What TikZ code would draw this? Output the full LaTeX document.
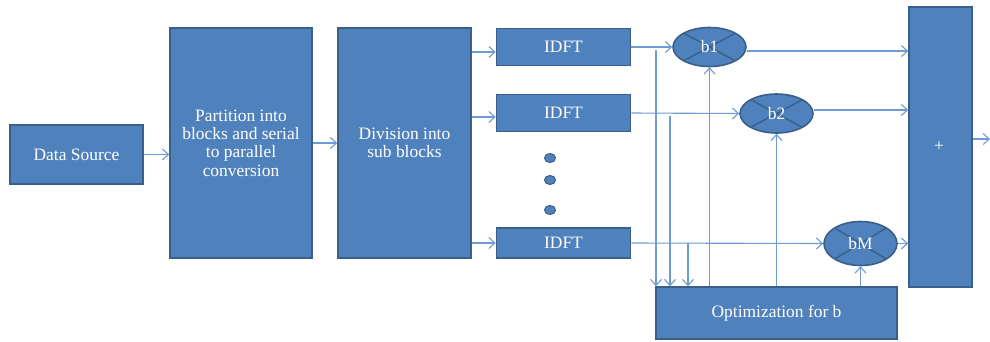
\documentclass[tikz,border=0pt]{standalone}
\usepackage{fontspec}
\setmainfont{Liberation Serif}
\usetikzlibrary{arrows.meta,shapes.geometric}
\definecolor{boxfill}{HTML}{4F81BD}
\definecolor{boxline}{HTML}{3A5F8B}
\definecolor{wire}{HTML}{6F9BD5}
\tikzset{
  lbl/.style={text=white, align=center, font=\fontsize{17.5}{18.5}\selectfont},
  blk/.style={lbl, draw=boxline, line width=1.6bp, fill=boxfill, inner sep=2bp},
  mult/.style={lbl, ellipse, draw=boxline, line width=1.6bp, fill=boxfill,
    inner sep=0pt, minimum width=73bp, minimum height=39bp,
    path picture={\draw[boxline, line width=1.4bp]
      (path picture bounding box.north west) -- (path picture bounding box.south east)
      (path picture bounding box.north east) -- (path picture bounding box.south west);}},
  dot/.style={ellipse, draw=boxline, line width=1bp, fill=boxfill,
    minimum width=11bp, minimum height=9bp, inner sep=0pt},
  wr/.style={draw=wire, line width=1.1bp},
  arr/.style={wr, -{Straight Barb[length=6bp,width=11bp,line width=1.1bp]}}
}
\begin{document}
\begin{tikzpicture}[x=1bp,y=-1bp]
\useasboundingbox (0,0) rectangle (990,341);

% main processing blocks
\node[blk, minimum width=133bp, minimum height=59bp] (src) at (76.5,154.5) {Data Source};
\node[blk, minimum width=142bp, minimum height=230bp] (part) at (241,143) {};
\node[lbl] (partlbl) at (241,143)
  {Partition into\\blocks and serial\\to parallel\\conversion};
\node[blk, minimum width=133bp, minimum height=230bp] (div) at (404.5,143) {};
\node[lbl] (divlbl) at (404.5,143) {Division into\\sub blocks};

% IDFT branches
\node[blk, minimum width=134bp, minimum height=37bp] (i1) at (563.5,47) {IDFT};
\node[blk, minimum width=134bp, minimum height=37bp] (i2) at (563.5,113) {IDFT};
\node[blk, minimum width=134bp, minimum height=30bp] (i3) at (563.5,243) {IDFT};
\node[dot] (d1) at (550,158) {};
\node[dot] (d2) at (550,180) {};
\node[dot] (d3) at (550,210) {};

% phase multipliers
\node[mult] (b1) at (709.5,47) {b1};
\node[mult] (b2) at (776.5,113.5) {b2};
\node[mult, minimum height=44bp] (bM) at (860.5,243.5) {bM};

% adder and optimiser
\node[blk, minimum width=63bp, minimum height=280bp] (sum) at (940.5,147) {};
\node[lbl] (plus) at (939,147) {+};
\node[blk, minimum width=241bp, minimum height=52bp] (opt) at (776.5,313) {Optimization for b};

% tap points on the branch lines
\coordinate (t1) at (656,47);
\coordinate (t2) at (670,113);
\coordinate (t3) at (688,243);
\coordinate (out) at (990,139);

% connectors
\draw[arr] (src.east) -- (part.west |- src.east);
\draw[arr] (part.east |- 0,143) -- (div.west |- 0,143);
\draw[arr] (div.east |- 0,52) -- (i1.west |- 0,52);
\draw[arr] (div.east |- 0,117) -- (i2.west |- 0,117);
\draw[arr] (div.east |- i3.west) -- (i3.west);

\draw[arr] (i1.east) -- (b1.west);
\draw[arr] (i2.east) -- (b2.west);
\draw[arr] (i3.east) -- (bM.west);

\draw[arr] (b1.east |- 0,51) -- (sum.west |- 0,51);
\draw[arr] (b2.east |- 0,110) -- (sum.west |- 0,110);
\draw[arr] (bM.east) -- (sum.west |- bM.east);
\draw[arr] (sum.east |- out) -- (out);

\draw[arr] ([yshift=-3bp]t1) -- (t1 |- opt.north);
\draw[arr] ([yshift=-3bp]t2) -- (t2 |- opt.north);
\draw[arr] (t3) -- (t3 |- opt.north);

\draw[arr] (opt.north -| b1.south) -- (b1.south);
\draw[arr] (opt.north -| b2.south) -- (b2.south);
\draw[arr] (opt.north -| bM.south) -- (bM.south);
\end{tikzpicture}
\end{document}
